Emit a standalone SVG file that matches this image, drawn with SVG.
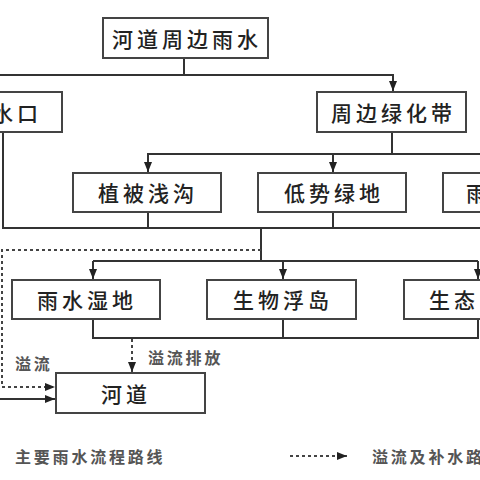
<svg xmlns="http://www.w3.org/2000/svg" width="480" height="480" viewBox="0 0 480 480">
<style>
.box{fill:#fff;stroke:#444;stroke-width:2}
.t{font-family:"Noto Sans CJK SC","Noto Sans",sans-serif;font-size:21px;fill:#222;letter-spacing:4px;dominant-baseline:central;font-weight:500}
.s{font-family:"Noto Sans CJK SC","Noto Sans",sans-serif;font-size:16px;fill:#555;letter-spacing:2.8px;dominant-baseline:central;font-weight:bold}
.ln{fill:none;stroke:#333;stroke-width:2}
.dt{fill:none;stroke:#444;stroke-width:2;stroke-dasharray:3,3}
</style>
<defs>
<marker id="ah" markerUnits="userSpaceOnUse" markerWidth="10" markerHeight="10" viewBox="0 0 10 10" refX="10" refY="5" orient="auto">
<path d="M0,1 L10,5 L0,9 Z" fill="#222"/>
</marker>
</defs>
<rect width="480" height="480" fill="#fff"/>
<g id="connectors">
<path class="ln" d="M184,58 V75"/>
<path class="ln" d="M0,75 H393 V91" marker-end="url(#ah)"/>
<path class="ln" d="M3,132 V228 H480"/>
<path class="ln" d="M392,132 V154"/>
<path class="ln" d="M148,172 V154 H480"/>
<path class="ln" d="M148,154 V172" marker-end="url(#ah)"/>
<path class="ln" d="M333,154 V172" marker-end="url(#ah)"/>
<path class="ln" d="M148,212 V228"/>
<path class="ln" d="M333,212 V228"/>
<path class="ln" d="M261,228 V261"/>
<path class="ln" d="M93,261 H478"/>
<path class="ln" d="M93,261 V279" marker-end="url(#ah)"/>
<path class="ln" d="M283,261 V279" marker-end="url(#ah)"/>
<path class="ln" d="M478,261 V279" marker-end="url(#ah)"/>
<path class="ln" d="M93,319 V338 H478 V319"/>
<path class="ln" d="M283,319 V338"/>
<path class="dt" d="M261,250 H2 V387 H55" marker-end="url(#ah)"/>
<path class="dt" d="M132,339 V372" marker-end="url(#ah)"/>
<path class="ln" d="M0,399 H55" marker-end="url(#ah)"/>
<path class="dt" d="M290,456 H347" marker-end="url(#ah)"/>
</g>
<g id="n-top"><rect class="box" x="103" y="18" width="165" height="40"/><text class="t" x="112" y="38">河道周边雨水</text></g>
<g id="n-outlet"><rect class="box" x="-10" y="92" width="72" height="40"/><text class="t" x="-8" y="112">水口</text></g>
<g id="n-green"><rect class="box" x="317" y="92" width="149" height="40"/><text class="t" x="331" y="112">周边绿化带</text></g>
<g id="n-swale"><rect class="box" x="73" y="173" width="148" height="39"/><text class="t" x="98" y="192">植被浅沟</text></g>
<g id="n-low"><rect class="box" x="258" y="173" width="148" height="39"/><text class="t" x="284" y="192">低势绿地</text></g>
<g id="n-rain"><rect class="box" x="443" y="173" width="60" height="39"/><text class="t" x="466" y="192">雨</text></g>
<g id="n-wetland"><rect class="box" x="12" y="280" width="148" height="39"/><text class="t" x="37" y="299">雨水湿地</text></g>
<g id="n-island"><rect class="box" x="207" y="280" width="149" height="39"/><text class="t" x="233" y="299">生物浮岛</text></g>
<g id="n-eco"><rect class="box" x="404" y="280" width="100" height="39"/><text class="t" x="429" y="299">生态</text></g>
<g id="n-river"><rect class="box" x="56" y="373" width="149" height="40"/><text class="t" x="101" y="393">河道</text></g>
<g id="labels">
<text class="s" x="148" y="357">溢流排放</text>
<text class="s" x="15" y="363">溢流</text>
<text class="s" x="15" y="456">主要雨水流程路线</text>
<text class="s" x="372" y="456">溢流及补水路</text>
</g>
</svg>
